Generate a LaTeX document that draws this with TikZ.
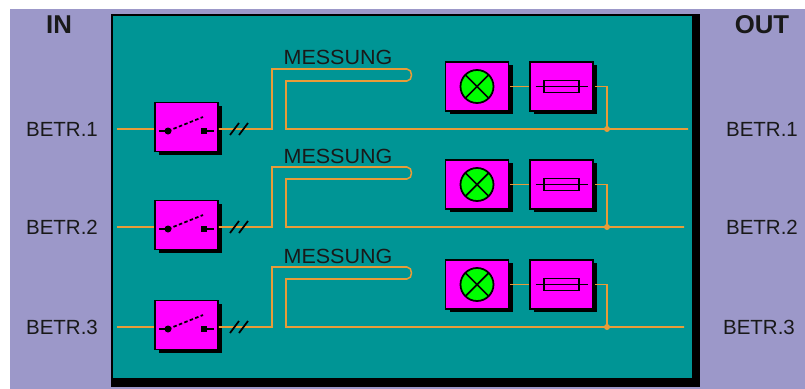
\documentclass[tikz,border=0pt]{standalone}
\usepackage{fontspec}
\setmainfont{Liberation Sans}
\usetikzlibrary{shadows}
\definecolor{panelbg}{HTML}{9C98C9}
\definecolor{panelteal}{HTML}{009595}
\definecolor{wirecol}{HTML}{E89C38}
\definecolor{unitpink}{HTML}{FF00FF}
\definecolor{lampgreen}{HTML}{00FF00}
\newcommand{\messlabel}{\scalebox{1.05}[1]{MESSUNG}}
\tikzset{
  unitbox/.style={draw=black, line width=1.4pt, fill=unitpink, minimum width=1.89cm, minimum height=1.47cm, inner sep=0pt,
    drop shadow={shadow xshift=0.13cm, shadow yshift=-0.1cm, fill=black, opacity=1}},
  wire/.style={draw=wirecol, line width=1.3pt},
  symb/.style={draw=black, line width=1.5pt},
  lab/.style={font=\fontsize{17.5}{20}\selectfont, text=black!90, inner sep=0pt},
  head/.style={font=\fontsize{22}{24}\selectfont\bfseries, text=black!90, inner sep=0pt}
}
\begin{document}
\begin{tikzpicture}[x=0.03cm, y=-0.03cm]
\useasboundingbox (0,0) rectangle (805,389);
\fill[panelbg] (10,9) rectangle (805,389);
\fill[black] (111,14) rectangle (700,387);
\fill[panelteal] (113,16) rectangle (692,378);
\node[head] (inhead) at (59,25) {IN};
\node[head] (outhead) at (762,25) {OUT};
\foreach \row/\y/\endx/\outx/\mes in {1/129/688/762/57, 2/227/684/762/156, 3/327/684/759/256} {
  \node[lab] (inlab\row) at (62,\y) {BETR.\row};
  \node[lab] (outlab\row) at (\outx,\y) {BETR.\row};
  \node[lab] (mess\row) at (338,\mes) {\messlabel};
  \node[unitbox] (switch\row) at (186.5,\y-2) {};
  \node[unitbox] (lamp\row) at (477,\y-42.5) {};
  \node[unitbox] (fuse\row) at (561.5,\y-42.5) {};
  \coordinate (in\row) at (117,\y);
  \coordinate (out\row) at (\endx,\y);
  \coordinate (tap\row) at (607,\y);
  \draw[wire] (in\row) -- (switch\row.west |- in\row);
  \draw[wire] (switch\row.east |- in\row) -- (272,\y) -- (272,\y-60) -- (407,\y-60)
    .. controls (413,\y-60) and (413,\y-48) .. (407,\y-48) -- (286,\y-48) -- (286,\y) -- (out\row);
  \draw[wire] (lamp\row.east) ++(1,0) -- (fuse\row.west);
  \draw[wire] (fuse\row.east) ++(1,0) -- (tap\row |- fuse\row.east) -- (tap\row);
  \fill[wirecol] (tap\row) circle (3);
  \draw[symb] (230,\y+6) -- (239,\y-6) (239,\y+6) -- (248,\y-6);
  \draw[symb] (159,\y+2) -- (168,\y+2);
  \draw[symb, densely dashed] (168,\y+2) -- (203,\y-12);
  \fill (168,\y+2) circle (3.5);
  \fill (201,\y-1) rectangle (207,\y+5);
  \draw[symb] (207,\y+2) -- (214,\y+2);
  \draw[symb, fill=lampgreen] (lamp\row) circle (16.5);
  \draw[symb] (lamp\row) ++(-11.5,-11.5) -- ++(23,23) ++(0,-23) -- ++(-23,23);
  \draw[symb] (fuse\row) ++(-26,0) -- ++(52,0);
  \draw[symb] (fuse\row) ++(-17.5,-6) rectangle ++(35,12);
}
\end{tikzpicture}
\end{document}
